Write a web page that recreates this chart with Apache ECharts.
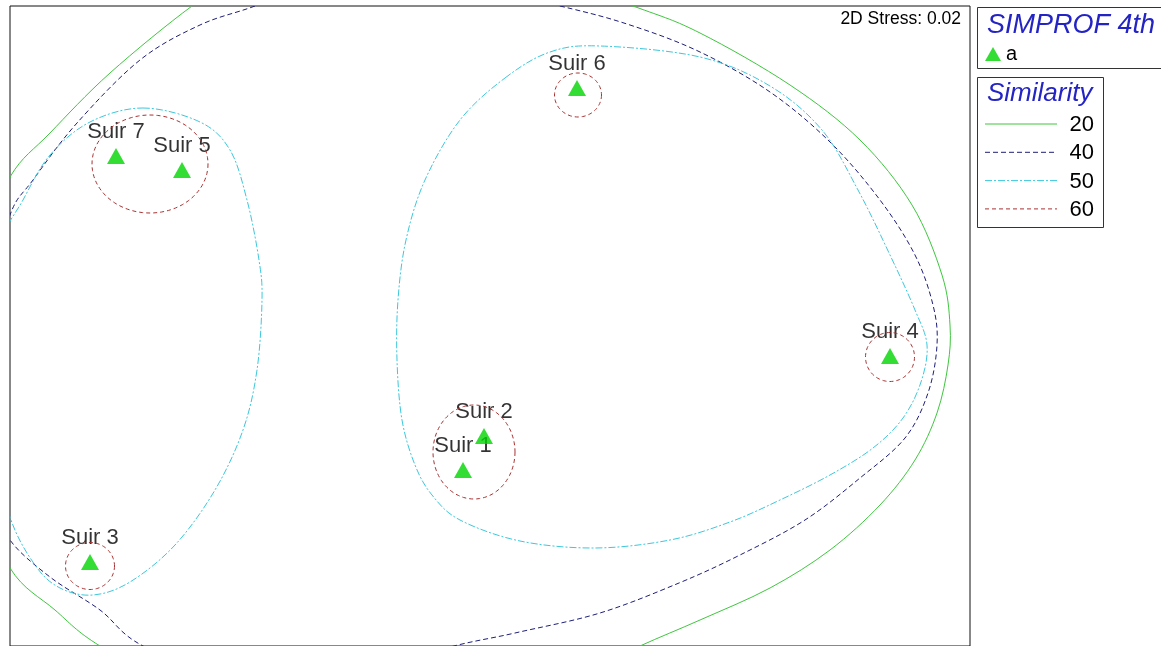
<!DOCTYPE html>
<html>
<head>
<meta charset="utf-8">
<script src="https://cdn.jsdelivr.net/npm/echarts@6/dist/echarts.min.js"></script>
<style>
  html, body { margin: 0; padding: 0; background: #fff; }
  #chart { width: 1161px; height: 646px; }
</style>
</head>
<body>
<div id="chart"></div>
<script>
// nMDS ordination of Suir samples (arbitrary ordination units)
const sampleNames = ['Suir 1', 'Suir 2', 'Suir 3', 'Suir 4', 'Suir 5', 'Suir 6', 'Suir 7'];
const sampleX = [45.3, 47.4, 8.0, 88.0, 17.2, 56.7, 10.6];
const sampleY = [17.6, 21.0, 8.4, 29.0, 47.6, 55.8, 49.0];
const simprofGroup = 'a';
const stressText = '2D Stress: 0.02';

const legendTitle = 'SIMPROF 4th';
const similarityTitle = 'Similarity';
const similarityLevels = [20, 40, 50, 60];

// Similarity contours traced in ordination space (closed loops)
const contour20 = [
  [18.2, 64.0], [10.0, 57.3], [4.0, 51.3], [0.0, 46.9], [-3.5, 38.6], [-5.0, 27.6],
  [-3.5, 16.6], [0.0, 7.8], [4.5, 3.6], [9.0, 0.0], [19.0, -5.4], [34.0, -7.9],
  [49.0, -5.9], [57.0, -2.9], [63.0, 0.0], [69.0, 2.6], [76.0, 5.8], [82.0, 9.6],
  [87.0, 14.1], [90.5, 18.6], [92.7, 23.3], [93.8, 28.1], [94.0, 32.1], [93.2, 37.1],
  [90.2, 44.1], [85.0, 50.6], [78.0, 56.1], [69.0, 61.3], [62.3, 64.0], [49.0, 68.6],
  [34.0, 69.6], [24.0, 67.6]
];
const contour40 = [
  [24.5, 64.0], [19.0, 62.1], [13.0, 58.6], [6.7, 52.3], [2.3, 46.6], [0.0, 43.1],
  [-2.2, 34.6], [-2.5, 24.6], [-1.5, 14.6], [0.0, 10.6], [4.0, 6.9], [9.0, 3.6],
  [13.3, 0.0], [24.0, -4.4], [35.0, -3.6], [43.0, -0.4], [50.5, 1.3], [59.0, 3.3],
  [66.9, 6.3], [73.0, 9.1], [79.5, 12.6], [85.0, 16.8], [89.5, 20.8], [91.8, 25.3],
  [92.7, 30.1], [92.3, 34.1], [90.5, 39.1], [87.0, 44.6], [82.0, 50.4], [76.0, 55.4],
  [69.0, 59.4], [62.0, 62.1], [55.0, 64.0], [41.0, 67.1], [31.0, 66.6]
];
const contour50West = [
  [13.3, 53.8], [19.0, 52.4], [22.0, 49.6], [23.7, 44.6], [24.9, 38.6], [25.2, 34.6],
  [24.7, 27.6], [23.3, 21.6], [20.5, 15.6], [16.5, 10.1], [12.0, 6.4], [8.3, 5.1],
  [5.0, 5.8], [2.5, 8.1], [0.0, 12.9], [-1.6, 20.6], [-2.0, 30.6], [-1.2, 39.6],
  [1.3, 44.6], [4.0, 49.1], [8.0, 52.4]
];
const contour50East = [
  [49.5, 56.8], [54.0, 59.4], [59.0, 60.0], [69.0, 58.9], [76.0, 56.0], [81.2, 51.6],
  [84.8, 45.6], [88.0, 39.1], [90.5, 33.6], [91.7, 30.1], [91.1, 26.4], [89.3, 22.8],
  [86.3, 19.8], [82.0, 17.1], [77.0, 14.6], [72.0, 12.4], [66.0, 10.6], [58.5, 9.8],
  [51.0, 10.5], [45.0, 12.6], [42.2, 15.1], [40.5, 18.1], [39.2, 22.6], [38.7, 28.6],
  [38.8, 34.6], [39.6, 40.6], [41.5, 46.6], [45.0, 52.6]
];
// 60% similarity rings: centre x, centre y, radius x, radius y
const rings60 = [
  [14.0, 48.2, 5.8, 4.9],
  [56.8, 55.1, 2.35, 2.2],
  [88.0, 28.9, 2.45, 2.45],
  [8.0, 8.0, 2.45, 2.35],
  [46.4, 19.4, 4.1, 4.7]
];

const FONT = 'Arial, "Liberation Sans", sans-serif';
const levelStyle = {
  20: { stroke: '#3fc63f', lineDash: null },
  40: { stroke: '#1e1e78', lineDash: [5, 3] },
  50: { stroke: '#3cc8dc', lineDash: [7, 2, 2, 2] },
  60: { stroke: '#a83232', lineDash: [4, 3] }
};
const contourLoops = { 20: [contour20], 40: [contour40], 50: [contour50West, contour50East] };

// Closed Catmull-Rom spline through pixel points
function closedSpline(p) {
  const n = p.length;
  let d = 'M' + p[0][0] + ' ' + p[0][1];
  for (let i = 0; i < n; i++) {
    const p0 = p[(i - 1 + n) % n], p1 = p[i], p2 = p[(i + 1) % n], p3 = p[(i + 2) % n];
    const c1x = p1[0] + (p2[0] - p0[0]) / 6, c1y = p1[1] + (p2[1] - p0[1]) / 6;
    const c2x = p2[0] - (p3[0] - p1[0]) / 6, c2y = p2[1] - (p3[1] - p1[1]) / 6;
    d += ' C' + c1x + ' ' + c1y + ' ' + c2x + ' ' + c2y + ' ' + p2[0] + ' ' + p2[1];
  }
  return d + ' Z';
}

function contourSeries(level) {
  const loops = contourLoops[level];
  const st = levelStyle[level];
  return {
    type: 'custom',
    name: 'contour ' + level,
    coordinateSystem: 'cartesian2d',
    clip: true,
    silent: true,
    z: 3,
    data: loops.map((_, i) => [i]),
    encode: { x: 0, y: 0 },
    renderItem: function (params, api) {
      const pts = loops[api.value(0)].map(q => api.coord(q));
      return {
        type: 'path',
        shape: { pathData: closedSpline(pts) },
        style: { fill: 'none', stroke: st.stroke, lineWidth: 1, lineDash: st.lineDash }
      };
    }
  };
}

const ringSeries = {
  type: 'custom',
  name: 'contour 60',
  coordinateSystem: 'cartesian2d',
  clip: true,
  silent: true,
  z: 3,
  data: rings60,
  encode: { x: 0, y: 1 },
  renderItem: function (params, api) {
    const c = api.coord([api.value(0), api.value(1)]);
    const s = api.size([api.value(2), api.value(3)]);
    const pts = [];
    for (let k = 0; k < 96; k++) {
      const t = (k / 96) * Math.PI * 2;
      pts.push([c[0] + s[0] * Math.cos(t), c[1] + s[1] * Math.sin(t)]);
    }
    return {
      type: 'polygon',
      shape: { points: pts },
      style: { fill: 'none', stroke: levelStyle[60].stroke, lineWidth: 1, lineDash: levelStyle[60].lineDash }
    };
  }
};

const samplePoints = sampleNames.map((n, i) => ({ name: n, value: [sampleX[i], sampleY[i]] }));

// Legend block for similarity levels
const legendGraphics = [
  { type: 'rect', shape: { x: 977.5, y: 7.5, width: 200, height: 61 },
    style: { fill: '#fff', stroke: '#333', lineWidth: 1 }, z: 10 },
  { type: 'text', x: 987, y: 25, z: 11,
    style: { text: legendTitle, font: 'italic 27px ' + FONT, fill: '#2424c4', verticalAlign: 'middle' } },
  { type: 'rect', shape: { x: 977.5, y: 77.5, width: 126, height: 150 },
    style: { fill: '#fff', stroke: '#333', lineWidth: 1 }, z: 10 },
  { type: 'text', x: 987, y: 94, z: 11,
    style: { text: similarityTitle, font: 'italic 26px ' + FONT, fill: '#2424c4', verticalAlign: 'middle' } },
  { type: 'text', x: 961, y: 19, z: 11,
    style: { text: stressText, font: '17.5px ' + FONT, fill: '#000', align: 'right', verticalAlign: 'middle' } }
];
similarityLevels.forEach((lv, i) => {
  const y = 124 + i * 28.3;
  legendGraphics.push({
    type: 'line', z: 11,
    shape: { x1: 985, y1: y, x2: 1057, y2: y },
    style: { stroke: levelStyle[lv].stroke, lineWidth: 1, lineDash: levelStyle[lv].lineDash }
  });
  legendGraphics.push({
    type: 'text', x: 1094, y: y + 1, z: 11,
    style: { text: String(lv), font: '22px ' + FONT, fill: '#000', align: 'right', verticalAlign: 'middle' }
  });
});

const chart = echarts.init(document.getElementById('chart'), null, { renderer: 'canvas' });
chart.setOption({
  animation: false,
  backgroundColor: '#fff',
  grid: { show: true, left: 10, top: 6, width: 960, height: 640, borderColor: '#111', borderWidth: 1, backgroundColor: '#fff' },
  xAxis: { type: 'value', min: 0, max: 96, show: false },
  yAxis: { type: 'value', min: 0, max: 64, show: false },
  legend: {
    data: [{ name: simprofGroup, icon: 'triangle' }],
    left: 985, top: 44, padding: 0, itemWidth: 16, itemHeight: 14, itemGap: 6,
    textStyle: { fontSize: 20, fontFamily: FONT, color: '#000' },
    selectedMode: false, z: 12
  },
  graphic: legendGraphics,
  series: [
    {
      // sample names, drawn beneath contours and symbols
      type: 'scatter', name: 'labels', z: 1, silent: true,
      data: samplePoints, symbol: 'triangle', symbolSize: [18, 16],
      itemStyle: { color: 'rgba(0,0,0,0)' },
      label: { show: true, position: 'top', distance: 5, formatter: '{b}',
        fontSize: 22, fontFamily: FONT, color: '#000' }
    },
    contourSeries(20),
    contourSeries(40),
    contourSeries(50),
    ringSeries,
    {
      type: 'scatter', name: simprofGroup, z: 5, silent: true,
      data: samplePoints, symbol: 'triangle', symbolSize: [18, 16],
      itemStyle: { color: '#00d400' }
    }
  ]
});
</script>
</body>
</html>
